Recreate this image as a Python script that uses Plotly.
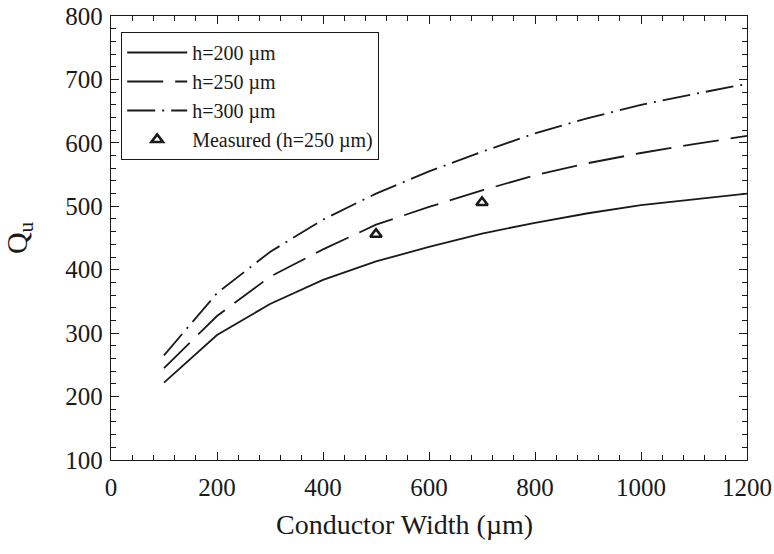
import plotly.graph_objects as go

width_um = [100, 200, 300, 400, 500, 600, 700, 800, 900, 1000, 1100, 1200]
q_h200 = [222, 297, 346, 384, 413, 436, 457, 474, 489, 502, 511, 520]
q_h250 = [245, 327, 389, 432, 471, 499, 525, 549, 568, 584, 598, 611]
q_h300 = [265, 363, 428, 479, 520, 555, 586, 615, 639, 660, 677, 693]
meas_x = [500, 700]
meas_q = [456, 506]

FONT = "Liberation Serif"
INK = "#1a1a1a"

fig = go.Figure()
fig.add_trace(go.Scatter(x=width_um, y=q_h200, mode="lines", name="h=200 µm",
                         line=dict(color=INK, width=1.8)))
fig.add_trace(go.Scatter(x=width_um, y=q_h250, mode="lines", name="h=250 µm",
                         line=dict(color=INK, width=1.8, dash="36px,12px")))
fig.add_trace(go.Scatter(x=width_um, y=q_h300, mode="lines", name="h=300 µm",
                         line=dict(color=INK, width=1.8, dash="28px,7px,2px,7px")))
fig.add_trace(go.Scatter(x=meas_x, y=meas_q, mode="markers", name="Measured (h=250 µm)",
                         marker=dict(symbol="triangle-up-open", size=10, color=INK,
                                     line=dict(width=2.6, color=INK))))

axis_common = dict(
    showline=True, linecolor=INK, linewidth=1.3, mirror="allticks",
    ticks="inside", ticklen=8, tickwidth=1.2, tickcolor=INK,
    showgrid=False, zeroline=False, automargin=False,
    tickfont=dict(family=FONT, size=25, color=INK),
)

fig.update_xaxes(range=[0, 1200], tick0=0, dtick=200, ticklabelstandoff=5,
                 minor=dict(ticks="inside", ticklen=5, dtick=40, tickcolor=INK, tickwidth=1),
                 **axis_common)
fig.update_yaxes(range=[100, 800], tick0=100, dtick=100, ticklabelstandoff=2,
                 minor=dict(ticks="inside", ticklen=5, dtick=20, tickcolor=INK, tickwidth=1),
                 title=dict(text="Q<sub>u</sub>", font=dict(family=FONT, size=30, color=INK),
                            standoff=30),
                 **axis_common)

fig.add_annotation(text="Conductor Width (µm)", xref="paper", yref="paper",
                   x=0.461, y=-0.146, xanchor="center", yanchor="middle", showarrow=False,
                   font=dict(family=FONT, size=28, color=INK))

fig.update_layout(
    width=774, height=554,
    margin=dict(l=111, r=27, t=16, b=94),
    paper_bgcolor="white", plot_bgcolor="white",
    showlegend=True,
    legend=dict(x=0.016, y=0.964, xanchor="left", yanchor="top",
                bgcolor="white", bordercolor=INK, borderwidth=1,
                font=dict(family=FONT, size=20, color=INK),
                itemwidth=60, tracegroupgap=0),
)

fig.write_html("out.html")
